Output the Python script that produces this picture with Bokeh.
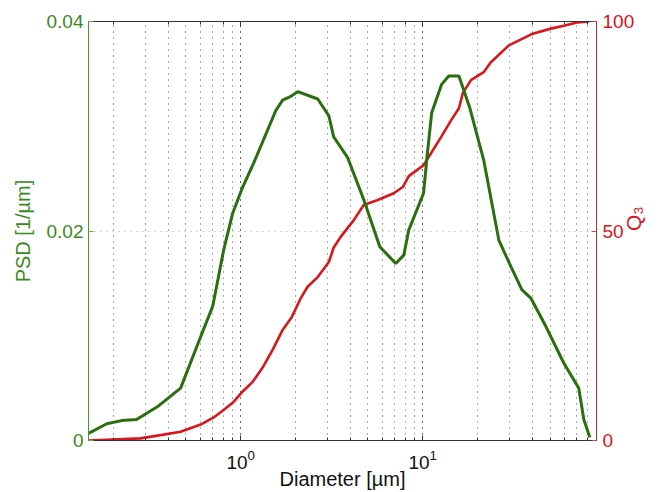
import math
from bokeh.plotting import figure
from bokeh.models import Range1d, LinearAxis, LogAxis, FixedTicker
from bokeh.embed import file_html
from bokeh.resources import INLINE

# PSD curve (green, left axis)
psd_d = [0.146, 0.184, 0.222, 0.268, 0.354, 0.468, 0.603, 0.702, 0.807, 0.904,
         1.026, 1.18, 1.56, 1.70, 1.86, 2.06, 2.65, 3.05, 3.24, 3.87, 4.74,
         5.81, 7.11, 7.87, 8.38, 10.1, 10.6, 11.2, 12.7, 13.9, 15.8, 18.1,
         21.6, 26.2, 30.5, 35.0, 39.2, 47.4, 59.5, 71.9, 76.7, 82.7]
psd = [0.00067, 0.0016, 0.0019, 0.0020, 0.0033, 0.0050, 0.0099, 0.0128, 0.0182,
       0.0217, 0.0242, 0.0265, 0.0315, 0.0325, 0.0328, 0.0333, 0.0326, 0.0310,
       0.0290, 0.0270, 0.0230, 0.0185, 0.0169, 0.0177, 0.0201, 0.0236, 0.0274,
       0.0313, 0.0340, 0.0348, 0.0348, 0.0318, 0.0268, 0.0191, 0.0166, 0.0144,
       0.0136, 0.0109, 0.0074, 0.0050, 0.0020, 0.0003]

# Q3 cumulative curve (red, right axis)
q3_d = [0.146, 0.282, 0.377, 0.468, 0.603, 0.711, 0.796, 0.904, 1.026, 1.164,
        1.32, 1.50, 1.70, 1.91, 2.14, 2.33, 2.65, 3.05, 3.24, 3.54, 4.18, 4.74,
        5.66, 6.93, 7.77, 8.38, 10.1, 12.6, 14.3, 15.8, 16.6, 18.4, 21.6, 23.6,
        29.7, 40.2, 50.5, 59.5, 71.1, 81.7]
q3 = [0.0, 0.5, 1.4, 2.1, 3.8, 5.5, 7.1, 9.0, 11.7, 14.0, 17.4, 21.7, 26.4,
      29.5, 34.0, 36.7, 39.0, 42.6, 46.0, 48.6, 52.6, 56.2, 57.4, 59.0, 60.5,
      63.1, 65.7, 72.4, 76.4, 79.3, 82.9, 86.0, 87.9, 90.2, 94.3, 97.1, 98.3,
      99.0, 99.8, 100.0]

x_limits = (0.146, 90)
psd_ticks = [0, 0.02, 0.04]
psd_tick_labels = ["0", "0.02", "0.04"]
q3_ticks = [0, 50, 100]

GREEN_LINE = "#2b6e10"
GREEN_TEXT = "#3a8a1c"
RED_LINE = "#d8161c"
RED_TEXT = "#d8141c"
FONT = "Liberation Sans"

p = figure(width=661, height=492, x_axis_type="log",
           x_range=Range1d(*x_limits), y_range=Range1d(0, 0.04),
           output_backend="svg", toolbar_location=None,
           min_border_left=88, min_border_right=65, min_border_top=21,
           min_border_bottom=51)
p.extra_y_ranges = {"q": Range1d(0, 100)}
p.outline_line_color = "#333333"
p.background_fill_color = "white"
p.border_fill_color = "white"

# grids
p.xgrid.grid_line_color = "#555555"
p.xgrid.grid_line_dash = "1 5"
p.xgrid.minor_grid_line_color = "#555555"
p.xgrid.minor_grid_line_dash = "1 5"
p.ygrid.ticker = FixedTicker(ticks=[0.02])
p.ygrid.grid_line_color = "#8fc47a"
p.ygrid.grid_line_dash = "1 5"

# bottom axis
xa = p.xaxis[0]
xa.axis_label = "Diameter [µm]"
xa.axis_label_text_font = FONT
xa.axis_label_text_font_size = "20px"
xa.axis_label_text_font_style = "normal"
xa.axis_label_text_color = "#111111"
xa.axis_label_standoff = -4
xa.major_label_text_font = FONT
xa.major_label_text_font_size = "19px"
xa.major_label_text_color = "#111111"
xa.major_label_standoff = 9
xa.axis_line_color = "#333333"
xa.major_tick_in = 5
xa.major_tick_out = 0
xa.minor_tick_in = 3
xa.minor_tick_out = 0
xa.major_tick_line_color = "#333333"
xa.minor_tick_line_color = "#333333"

# top axis (ticks only)
top = LogAxis(major_label_text_font_size="1px", major_label_text_color=None,
              major_label_standoff=0,
              major_tick_in=5, major_tick_out=0, minor_tick_in=3,
              minor_tick_out=0, axis_line_color="#333333",
              major_tick_line_color="#333333", minor_tick_line_color="#333333")
p.add_layout(top, "above")

# left axis
ya = p.yaxis[0]
ya.ticker = FixedTicker(ticks=psd_ticks)
ya.major_label_overrides = dict(zip(psd_ticks, psd_tick_labels))
ya.axis_label = "PSD [1/µm]"
ya.axis_label_text_font = FONT
ya.axis_label_text_font_size = "20px"
ya.axis_label_text_font_style = "normal"
ya.axis_label_text_color = GREEN_TEXT
ya.axis_label_standoff = 10
ya.major_label_text_font = FONT
ya.major_label_text_font_size = "19px"
ya.major_label_text_color = GREEN_TEXT
ya.major_label_standoff = 5
ya.axis_line_color = "#4a9a2a"
ya.major_tick_in = 5
ya.major_tick_out = 0
ya.major_tick_line_color = "#6ab04a"
ya.minor_tick_line_color = None

# right axis
ra = LinearAxis(y_range_name="q", ticker=FixedTicker(ticks=q3_ticks))
ra.axis_label = "Q₃"
ra.axis_label_orientation = math.pi / 2
ra.axis_label_text_font = FONT
ra.axis_label_text_font_size = "21px"
ra.axis_label_text_font_style = "normal"
ra.axis_label_text_color = RED_TEXT
ra.axis_label_standoff = -4
ra.major_label_text_font = FONT
ra.major_label_text_font_size = "19px"
ra.major_label_text_color = RED_TEXT
ra.major_label_standoff = 6
ra.axis_line_color = "#a03a30"
ra.major_tick_in = 5
ra.major_tick_out = 0
ra.major_tick_line_color = "#d84040"
ra.minor_tick_line_color = None
p.add_layout(ra, "right")

# curves
p.line(q3_d, q3, y_range_name="q", line_color=RED_LINE, line_width=2.6)
p.line(psd_d, psd, line_color=GREEN_LINE, line_width=3)

open("out.html", "w").write(file_html(p, INLINE))
